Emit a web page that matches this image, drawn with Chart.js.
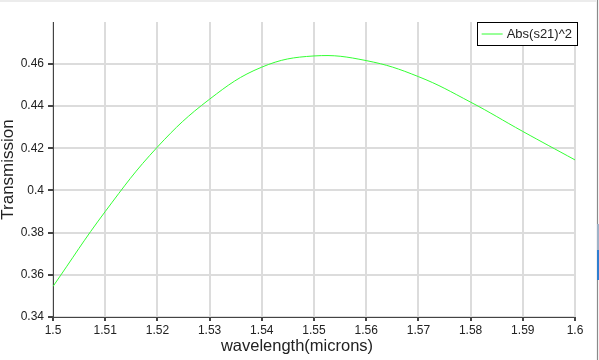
<!DOCTYPE html>
<html>
<head>
<meta charset="utf-8">
<script src="https://cdn.jsdelivr.net/npm/chart.js@4"></script>
<style>
    html, body { margin: 0; padding: 0; background: #fff; }
    #wrap { position: relative; width: 599px; height: 360px; overflow: hidden; }
    #plot { position: absolute; left: 0; top: 0; }
    /* window chrome bits along the edges */
    .edge { position: absolute; }
</style>
</head>
<body>
<div id="wrap">
    <canvas id="plot" width="599" height="360"></canvas>
    <div class="edge" style="left:0;top:0;width:599px;height:2px;background:#ececec"></div>
    <div class="edge" style="left:596px;top:0;width:3px;height:360px;background:#f2f2f2"></div>
    <div class="edge" style="left:597px;top:0;width:1px;height:360px;background:#8a8a8a"></div>
    <div class="edge" style="left:597px;top:224px;width:2px;height:26px;background:#9fb3c8"></div>
    <div class="edge" style="left:597px;top:250px;width:2px;height:30px;background:#2f7fd0"></div>
</div>
<script>
// 資料
const wavelengths = [1.50, 1.51, 1.52, 1.53, 1.54, 1.55, 1.56, 1.57, 1.58, 1.59, 1.60];
const transmission = [0.3545, 0.3900, 0.4206, 0.4433, 0.4585, 0.4638, 0.4616, 0.4540, 0.4419, 0.4280, 0.4145];
const seriesLabel = 'Abs(s21)^2';
const xTitle = 'wavelength(microns)';
const yTitle = 'Transmission';

const fontFamily = "'Liberation Sans', 'DejaVu Sans', sans-serif";

// 數字格式 (1.5, 1.51, 0.4 ...)
const fmt = v => String(Number(v.toFixed(2)));

// 圖例方框與 x 軸標題
const extras = {
    id: 'extras',
    afterDraw(chart) {
        const ctx = chart.ctx;
        const area = chart.chartArea;
        const ds = chart.data.datasets[0];

        // 圖例
        ctx.save();
        ctx.font = '13px ' + fontFamily;
        const textW = ctx.measureText(ds.label).width;
        const boxW = 5 + 21 + 4 + textW + 5;
        const boxX = area.right + 2 - boxW;
        const boxY = area.top + 0.5;
        ctx.fillStyle = '#fff';
        ctx.fillRect(boxX, boxY, boxW, 23);
        ctx.strokeStyle = '#000';
        ctx.lineWidth = 1;
        ctx.strokeRect(Math.round(boxX) + 0.5, boxY, Math.round(boxW), 23);
        ctx.strokeStyle = ds.borderColor;
        ctx.beginPath();
        ctx.moveTo(boxX + 5, boxY + 11.5);
        ctx.lineTo(boxX + 26, boxY + 11.5);
        ctx.stroke();
        ctx.fillStyle = '#222';
        ctx.textBaseline = 'middle';
        ctx.fillText(ds.label, boxX + 30, boxY + 12);

        // x 軸標題
        ctx.font = '16.5px ' + fontFamily;
        ctx.textAlign = 'center';
        ctx.fillStyle = '#222';
        ctx.fillText(xTitle, 297, 346);
        ctx.restore();
    }
};

new Chart(document.getElementById('plot').getContext('2d'), {
    type: 'line',
    data: {
        datasets: [{
            label: seriesLabel,
            data: wavelengths.map((w, i) => ({ x: w, y: transmission[i] })),
            borderColor: '#33ff33',
            borderWidth: 1,
            pointRadius: 0,
            tension: 0.4,
            fill: false
        }]
    },
    options: {
        responsive: false,
        animation: false,
        events: [],
        layout: { padding: { left: 0, right: 24, top: 22, bottom: 0 } },
        plugins: {
            legend: { display: false },
            tooltip: { enabled: false }
        },
        scales: {
            x: {
                type: 'linear',
                min: 1.5,
                max: 1.6,
                afterFit: scale => { scale.height = 43; },
                border: { color: '#444', width: 1 },
                grid: { color: '#dcdcdc', lineWidth: 2, tickColor: '#444', tickLength: 4 },
                ticks: {
                    stepSize: 0.01,
                    padding: 2,
                    maxRotation: 0,
                    autoSkip: false,
                    color: '#222',
                    font: { family: fontFamily, size: 12 },
                    callback: fmt
                }
            },
            y: {
                min: 0.34,
                max: 0.4799,
                afterFit: scale => { scale.width = 53; },
                border: { color: '#444', width: 1 },
                grid: { color: '#dcdcdc', lineWidth: 2, tickColor: '#444', tickLength: 5 },
                title: {
                    display: true,
                    text: yTitle,
                    color: '#222',
                    padding: 0,
                    font: { family: fontFamily, size: 17, lineHeight: 1 }
                },
                ticks: {
                    stepSize: 0.02,
                    includeBounds: false,
                    padding: 4,
                    color: '#222',
                    font: { family: fontFamily, size: 12 },
                    callback: fmt
                }
            }
        }
    },
    plugins: [extras]
});
</script>
</body>
</html>
